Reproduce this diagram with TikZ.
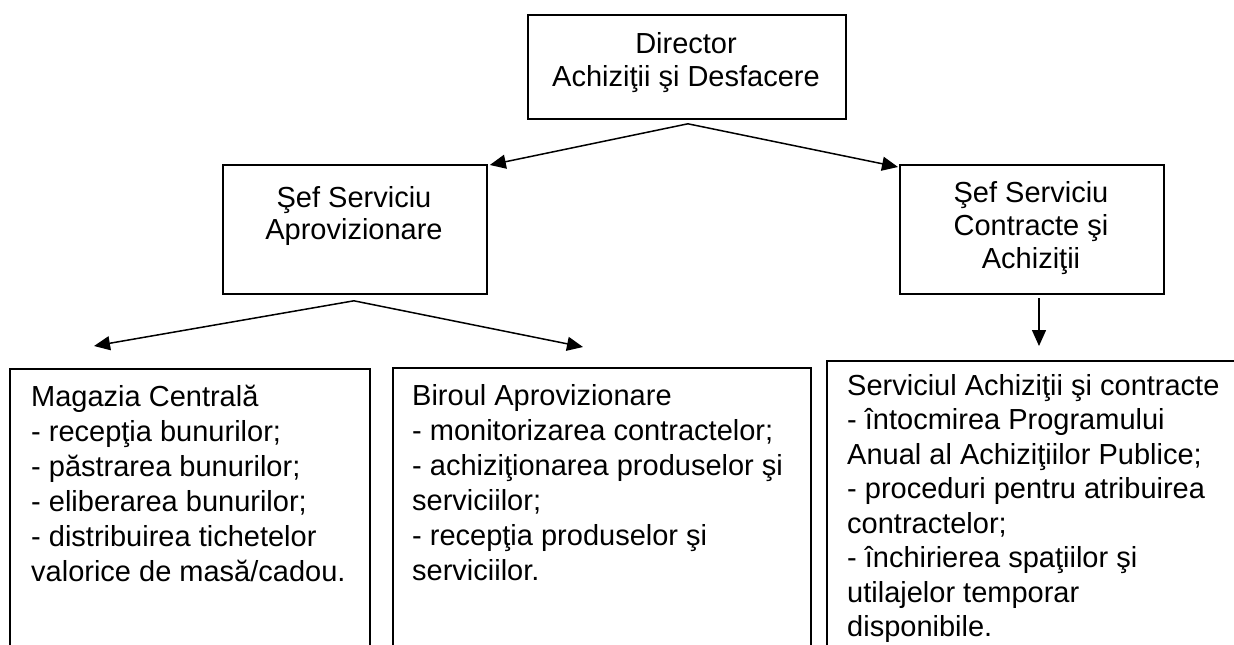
\documentclass[tikz,border=0pt]{standalone}
\usepackage{fontspec}
\setmainfont{Liberation Sans}
\usetikzlibrary{arrows.meta,calc}
\begin{document}
\begin{tikzpicture}[x=1pt,y=-1pt,
  box/.style={draw=black,line width=1.8pt,rectangle,inner sep=0pt,anchor=north west},
  ctxt/.style={inner sep=0pt,anchor=north,align=center,font=\fontsize{29}{33}\selectfont},
  ltxt/.style={inner sep=0pt,anchor=north west,align=left,font=\fontsize{29}{35}\selectfont},
  conn/.style={draw=black,line width=1.5pt,-{Triangle[length=16pt,width=14pt]}}
]
\useasboundingbox (0,0) rectangle (1234,645);
\clip (0,0) rectangle (1234,645);
% boxes
\node[box,minimum width=318pt,minimum height=104pt] (dir) at (527,14) {};
\node[box,minimum width=264pt,minimum height=129pt] (sefA) at (222,164) {};
\node[box,minimum width=264pt,minimum height=129pt] (sefC) at (899,164) {};
\node[box,minimum width=360pt,minimum height=320pt] (mag) at (9,368) {};
\node[box,minimum width=418pt,minimum height=320pt] (bir) at (392,367) {};
\node[box,minimum width=420pt,minimum height=320pt] (serv) at (826,360) {};
% texts
\node[ctxt] (dirT) at (686,30) {\rule{0pt}{23pt}Director\\Achiziţii şi Desfacere};
\node[ctxt,font=\fontsize{29}{32}\selectfont] (sefAT) at (354,184) {\rule{0pt}{23pt}Şef Serviciu\\Aprovizionare};
\node[ctxt] (sefCT) at (1031,179) {\rule{0pt}{23pt}Şef Serviciu\\Contracte şi\\Achiziţii};
\node[ltxt] (magT) at (31,383) {\rule{0pt}{23pt}Magazia Centrală\\- recepţia bunurilor;\\- păstrarea bunurilor;\\- eliberarea bunurilor;\\- distribuirea tichetelor\\valorice de masă/cadou.};
\node[ltxt] (birT) at (412,382) {\rule{0pt}{23pt}Biroul Aprovizionare\\- monitorizarea contractelor;\\- achiziţionarea produselor şi\\serviciilor;\\- recepţia produselor şi\\serviciilor.};
\node[ltxt,font=\fontsize{29}{34.5}\selectfont] (servT) at (847,372) {\rule{0pt}{23pt}Serviciul Achiziţii şi contracte\\- întocmirea Programului\\Anual al Achiziţiilor Publice;\\- proceduri pentru atribuirea\\contractelor;\\- închirierea spaţiilor şi\\utilajelor temporar\\disponibile.};
% connector points
\coordinate (dS) at ($(dir.south)+(1,4)$);
\coordinate (aS) at ($(sefA.south)+(-1,6)$);
\coordinate (cS) at (1039,298);
\coordinate (tA) at ($(sefA.north east)+(2,1)$);
\coordinate (tC) at ($(sefC.north west)+(-1,3)$);
\coordinate (tM) at (94,346);
\coordinate (tB) at (583,347);
\coordinate (tS) at (1039,346);
% connectors
\draw[conn] (dS) -- (tA);
\draw[conn] (dS) -- (tC);
\draw[conn] (aS) -- (tM);
\draw[conn] (aS) -- (tB);
\draw[conn] (cS) -- (tS);
\end{tikzpicture}
\end{document}
